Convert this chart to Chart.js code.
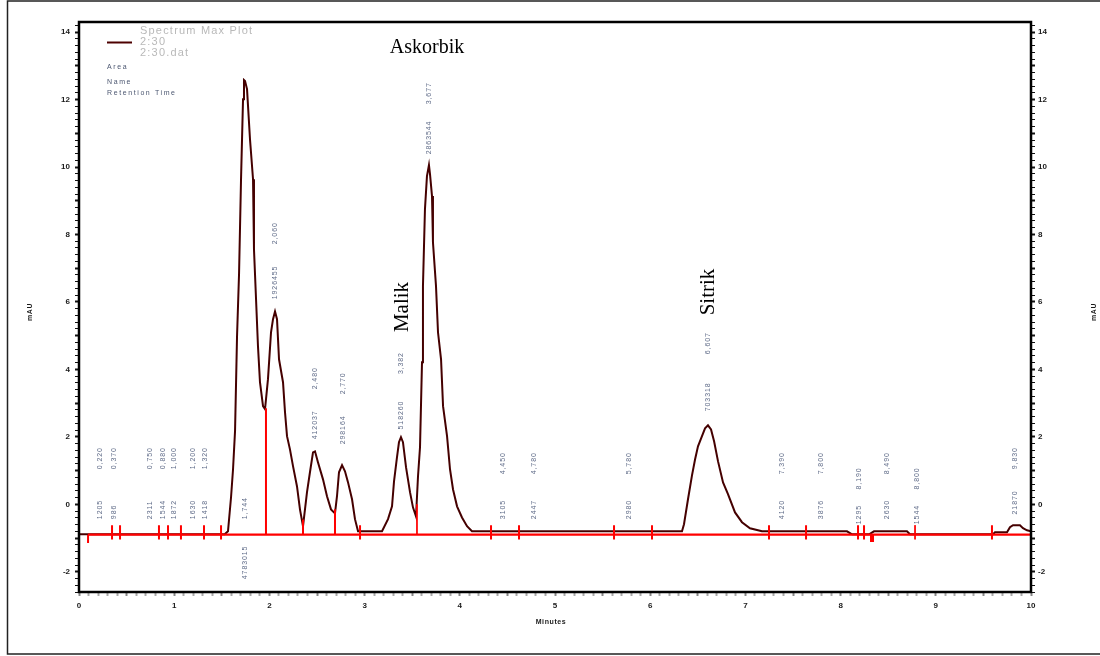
<!DOCTYPE html>
<html><head><meta charset="utf-8">
<script src="https://cdn.jsdelivr.net/npm/chart.js@4.4.0/dist/chart.umd.min.js"></script>
<style>html,body{margin:0;padding:0;background:#fff;}#wrap{width:1100px;height:656px;position:relative;}</style>
</head><body><div id="wrap"><canvas id="c" width="1100" height="656"></canvas></div>
<script>
// ---- data ----
const traceTime = [0,1.53,1.565,1.597,1.618,1.639,1.66,1.681,1.702,1.723,1.733,1.744,1.765,1.796,1.828,1.838,1.88,1.901,1.933,1.954,1.985,2.017,2.038,2.059,2.08,2.101,2.143,2.164,2.185,2.216,2.248,2.29,2.321,2.353,2.395,2.426,2.458,2.479,2.51,2.563,2.605,2.647,2.689,2.71,2.731,2.763,2.794,2.826,2.868,2.899,2.931,3.183,3.246,3.288,3.309,3.34,3.361,3.382,3.403,3.435,3.477,3.508,3.54,3.561,3.582,3.603,3.613,3.634,3.655,3.676,3.687,3.708,3.718,3.75,3.771,3.803,3.824,3.866,3.897,3.929,3.971,4.023,4.076,4.128,6.334,6.355,6.397,6.439,6.471,6.502,6.544,6.576,6.607,6.639,6.671,6.712,6.765,6.817,6.891,6.964,7.048,7.132,7.174,8.067,8.12,8.30,8.351,8.697,8.729,9.601,9.622,9.748,9.779,9.811,9.884,9.916,9.958,10];
const traceMAU = [-0.89,-0.89,-0.80,0.21,1.04,2.17,4.98,6.82,9.64,12.01,12.58,12.55,12.31,10.83,9.64,7.56,4.69,3.62,2.91,2.82,3.71,5.10,5.49,5.72,5.49,4.30,3.62,2.73,2.02,1.63,1.13,0.53,-0.15,-0.65,0.36,0.95,1.54,1.57,1.25,0.74,0.24,-0.15,-0.27,0.24,0.95,1.16,0.98,0.65,0.15,-0.44,-0.80,-0.80,-0.44,-0.06,0.68,1.39,1.84,1.99,1.84,1.10,0.36,-0.09,-0.36,0.83,1.69,4.21,6.47,8.75,9.73,10.06,9.79,9.14,7.77,6.47,5.10,4.30,2.91,2.02,1.04,0.44,-0.06,-0.39,-0.65,-0.80,-0.80,-0.59,0.15,0.86,1.33,1.72,2.02,2.25,2.34,2.22,1.87,1.28,0.65,0.30,-0.24,-0.53,-0.71,-0.77,-0.80,-0.80,-0.89,-0.89,-0.80,-0.80,-0.89,-0.89,-0.83,-0.83,-0.68,-0.62,-0.62,-0.71,-0.77,-0.80];

const baselineTime = [0.095, 10];
const baselineMAU = [-0.9, -0.9];

const eventTime   = [0.095,0.347,0.431,0.840,0.935,1.071,1.313,1.492,1.964,2.353,2.689,2.952,3.550,4.328,4.622,5.620,6.019,7.248,7.637,8.183,8.246,8.330,8.782,9.590,10.0];
const eventTop    = [-0.90,-0.62,-0.62,-0.62,-0.62,-0.62,-0.62,-0.62,2.85,-0.45,-0.15,-0.62,0.00,-0.62,-0.62,-0.62,-0.62,-0.62,-0.62,-0.62,-0.62,-0.90,-0.62,-0.62,-0.60];
const eventBottom = [-1.15,-1.04,-1.04,-1.04,-1.04,-1.04,-1.04,-1.04,-0.90,-0.90,-0.90,-1.04,-0.90,-1.04,-1.04,-1.04,-1.04,-1.04,-1.04,-1.04,-1.04,-1.12,-1.04,-1.04,-1.04];

const xTickValues = [0,1,2,3,4,5,6,7,8,9,10];
const yTickValues = [-2,0,2,4,6,8,10,12,14];

const labelTime  = [0.22,0.37,0.75,0.88,1.00,1.20,1.32,1.744,2.06,2.48,2.77,3.382,3.677,4.45,4.78,5.78,6.607,7.39,7.80,8.19,8.49,8.80,9.83];
const rtLevel    = [1.04,1.04,1.04,1.04,1.04,1.04,1.04,-0.44,7.71,3.41,3.26,3.86,11.86,0.89,0.89,0.89,4.45,0.89,0.89,0.44,0.89,0.44,1.04];
const areaLevel  = [-0.44,-0.44,-0.44,-0.44,-0.44,-0.44,-0.44,-2.22,6.08,1.93,1.78,2.22,10.38,-0.44,-0.44,-0.44,2.76,-0.44,-0.44,-0.59,-0.44,-0.59,-0.30];
const rtText     = ['0,220','0,370','0,750','0,880','1,000','1,200','1,320','1,744','2,060','2,480','2,770','3,382','3,677','4,450','4,780','5,780','6,607','7,390','7,800','8,190','8,490','8,800','9,830'];
const areaText   = ['1205','986','2311','1544','1872','1630','1418','4783015','1926455','412037','298164','518260','2863544','3105','2447','2980','703318','4120','3876','1295','2630','1544','21870'];

// ---- styles ----
const eventLineWidth = eventTime.map((t, i) => (i === 12 || i === 22) ? 1 : (i === 21 ? 4 : 2));
const TRACE = '#450000';
const RED = '#ff0000';

const traceData = traceTime.map((t, i) => ({x: t, y: traceMAU[i]}));
const baseData = baselineTime.map((t, i) => ({x: t, y: baselineMAU[i]}));
const eventData = [];
eventTime.forEach((t, i) => {
  eventData.push({x: t, y: eventTop[i]}, {x: t, y: eventBottom[i]}, {x: t, y: null});
});

const isMult = (v, s) => Math.abs(v / s - Math.round(v / s)) < 1e-6;
const tickFont = {family: 'Liberation Sans', size: 8, weight: 'bold'};

const decor = {
  id: 'decor',
  afterDatasetsDraw(chart) {
    const ctx = chart.ctx, xs = chart.scales.x, ys = chart.scales.y;
    ctx.save();
    ctx.fillStyle = '#5f6b88';
    ctx.font = '7px "Liberation Sans"';
    ctx.letterSpacing = '0.9px';
    ctx.textAlign = 'left';
    ctx.textBaseline = 'middle';
    labelTime.forEach((t, i) => {
      const x = xs.getPixelForValue(t);
      [[rtLevel[i], rtText[i]], [areaLevel[i], areaText[i]]].forEach(([lv, tx]) => {
        ctx.save();
        ctx.translate(x, ys.getPixelForValue(lv));
        ctx.rotate(-Math.PI / 2);
        ctx.fillText(tx, 0, 0);
        ctx.restore();
      });
    });
    ctx.restore();
  },
  afterDraw(chart) {
    const ctx = chart.ctx, a = chart.chartArea;
    ctx.save();
    // outer frame
    ctx.strokeStyle = '#222';
    ctx.lineWidth = 1.5;
    ctx.beginPath();
    ctx.moveTo(1100, 1); ctx.lineTo(7.5, 1); ctx.lineTo(7.5, 654); ctx.lineTo(1100, 654);
    ctx.stroke();
    // plot frame
    ctx.strokeStyle = '#000';
    ctx.lineWidth = 2.5;
    ctx.strokeRect(a.left, a.top, a.right - a.left, a.bottom - a.top);
    // legend
    ctx.strokeStyle = '#4d0000';
    ctx.lineWidth = 2;
    ctx.beginPath(); ctx.moveTo(107, 42.5); ctx.lineTo(132, 42.5); ctx.stroke();
    ctx.fillStyle = '#b9b9b9';
    ctx.font = '11px "Liberation Sans"';
    ctx.letterSpacing = '1.2px';
    ctx.textAlign = 'left';
    ctx.textBaseline = 'middle';
    ctx.fillText('Spectrum Max Plot', 140, 31);
    ctx.fillText('2:30', 140, 42);
    ctx.fillText('2:30.dat', 140, 53);
    ctx.fillStyle = '#4b5670';
    ctx.font = '7px "Liberation Sans"';
    ctx.letterSpacing = '1.6px';
    ctx.fillText('Area', 107, 67);
    ctx.fillText('Name', 107, 82);
    ctx.fillText('Retention Time', 107, 93);
    // compound annotations
    ctx.letterSpacing = '0px';
    ctx.fillStyle = '#000';
    ctx.font = '20px "Liberation Serif"';
    ctx.textAlign = 'center';
    ctx.fillText('Askorbik', 427, 48);
    ctx.font = '21px "Liberation Serif"';
    [['Malik', 402, 307], ['Sitrik', 708, 292]].forEach(([t, x, y]) => {
      ctx.save(); ctx.translate(x, y); ctx.rotate(-Math.PI / 2); ctx.fillText(t, 0, 0); ctx.restore();
    });
    // axis titles
    ctx.fillStyle = '#1a1a1a';
    ctx.font = 'bold 7px "Liberation Sans"';
    ctx.letterSpacing = '0.6px';
    ctx.fillText('Minutes', 551, 622);
    [[30, 312], [1094, 312]].forEach(([x, y]) => {
      ctx.save(); ctx.translate(x, y); ctx.rotate(-Math.PI / 2); ctx.fillText('mAU', 0, 0); ctx.restore();
    });
    ctx.restore();
  }
};

const yCommon = {
  type: 'linear', min: -2.6, max: 14.3,
  grid: {drawOnChartArea: false, tickLength: 4, tickColor: '#111',
         tickWidth: c => isMult(c.tick.value, 1) ? 2 : 1},
  border: {display: false},
};

new Chart(document.getElementById('c'), {
  type: 'line',
  data: {datasets: [
    {data: eventData, borderColor: RED, borderWidth: 2, pointRadius: 0, spanGaps: false,
     borderCapStyle: 'butt', segment: {borderWidth: c => eventLineWidth[Math.floor(c.p0DataIndex / 3)]}},
    {data: baseData, borderColor: RED, borderWidth: 2.2, pointRadius: 0},
    {data: traceData, borderColor: TRACE, borderWidth: 2, pointRadius: 0, tension: 0}
  ]},
  options: {
    responsive: false, animation: false, devicePixelRatio: 1,
    layout: {padding: {top: 22, left: 0, right: 0, bottom: 0}},
    plugins: {legend: {display: false}, tooltip: {enabled: false}},
    scales: {
      x: {type: 'linear', min: 0, max: 10,
          ticks: {stepSize: 0.1, autoSkip: false, maxRotation: 0, padding: 5, font: tickFont, color: '#1a1a1a',
                  callback: v => xTickValues.find(t => Math.abs(t - v) < 1e-6) !== undefined ? String(Math.round(v)) : ''},
          grid: {drawOnChartArea: false, tickLength: 4, tickColor: c => isMult(c.tick.value, 0.5) ? '#888' : '#aaa', tickWidth: 2},
          border: {display: false},
          afterFit: s => { s.height = 64; }},
      y: Object.assign({}, yCommon, {position: 'left',
          ticks: {stepSize: 0.2, autoSkip: false, includeBounds: false, padding: 5, font: tickFont, color: '#1a1a1a',
                  callback: v => { const r = Math.round(v); return (Math.abs(v - r) < 1e-6 && yTickValues.includes(r)) ? String(r) : ''; }},
          afterFit: s => { s.width = 79; }}),
      yR: Object.assign({}, yCommon, {position: 'right',
          ticks: {stepSize: 0.2, autoSkip: false, includeBounds: false, padding: 3, font: tickFont, color: '#1a1a1a',
                  callback: v => { const r = Math.round(v); return (Math.abs(v - r) < 1e-6 && yTickValues.includes(r)) ? String(r) : ''; }},
          afterFit: s => { s.width = 69; }})
    }
  },
  plugins: [decor]
});
</script>
</body></html>
